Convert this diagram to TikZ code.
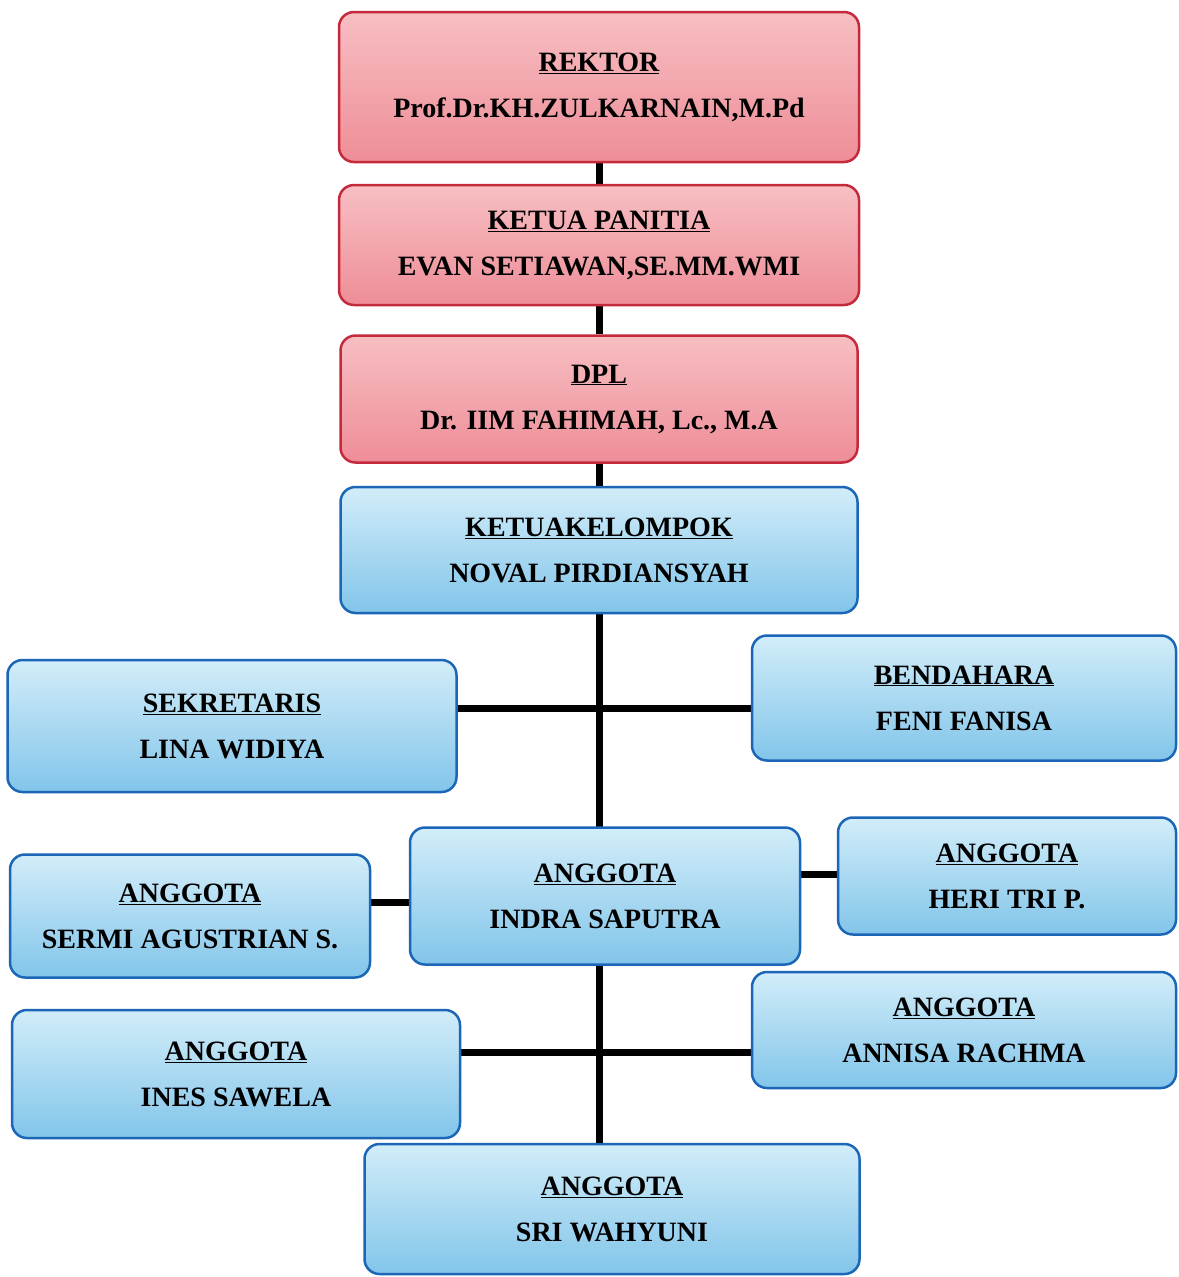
\documentclass[tikz,border=0pt]{standalone}
\usepackage{fontspec}
\setmainfont{Liberation Serif}
\usetikzlibrary{backgrounds}
\definecolor{pinktop}{HTML}{F7BFC3}
\definecolor{pinkbot}{HTML}{EE8D97}
\definecolor{pinkline}{HTML}{C42A3C}
\definecolor{bluetop}{HTML}{D2EDF9}
\definecolor{bluebot}{HTML}{82C5EA}
\definecolor{blueline}{HTML}{1B66B6}
\tikzset{
  box/.style={rounded corners=15pt, line width=2.5pt, align=center,
    font=\bfseries\fontsize{28}{46}\selectfont, inner sep=0pt},
  redbox/.style={box, draw=pinkline, top color=pinktop, bottom color=pinkbot},
  bluebox/.style={box, draw=blueline, top color=bluetop, bottom color=bluebot},
  conn/.style={line width=7pt, black}
}
\newcommand{\ttl}[1]{\underline{#1}}
\begin{document}
\begin{tikzpicture}[x=1pt,y=-1pt]
\useasboundingbox (0,0) rectangle (1178,1277);
\node[redbox, minimum width=520pt, minimum height=150pt] (rek) at (599,87) {\ttl{REKTOR}\\Prof.Dr.KH.ZULKARNAIN,M.Pd};
\node[redbox, minimum width=520pt, minimum height=120pt] (ket) at (599,245) {\ttl{KETUA PANITIA}\\EVAN SETIAWAN,SE.MM.WMI};
\node[redbox, minimum width=517pt, minimum height=127pt] (dpl) at (599,399) {\ttl{DPL}\\Dr. IIM FAHIMAH, Lc., M.A};
\node[bluebox, minimum width=517pt, minimum height=126pt] (kk) at (599,550) {\ttl{KETUAKELOMPOK}\\NOVAL PIRDIANSYAH};
\node[bluebox, minimum width=449pt, minimum height=132pt] (sek) at (232,726) {\ttl{SEKRETARIS}\\LINA WIDIYA};
\node[bluebox, minimum width=424pt, minimum height=125pt] (bend) at (964,698) {\ttl{BENDAHARA}\\FENI FANISA};
\node[bluebox, minimum width=360pt, minimum height=123pt] (sermi) at (190,916) {\ttl{ANGGOTA}\\SERMI AGUSTRIAN S.};
\node[bluebox, minimum width=390pt, minimum height=137pt] (indra) at (605,896) {\ttl{ANGGOTA}\\INDRA SAPUTRA};
\node[bluebox, minimum width=338pt, minimum height=117pt] (heri) at (1007,876) {\ttl{ANGGOTA}\\HERI TRI P.};
\node[bluebox, minimum width=448pt, minimum height=128pt] (ines) at (236,1074) {\ttl{ANGGOTA}\\INES SAWELA};
\node[bluebox, minimum width=424pt, minimum height=116pt] (annisa) at (964,1030) {\ttl{ANGGOTA}\\ANNISA RACHMA};
\node[bluebox, minimum width=495pt, minimum height=130pt] (sri) at (612,1209) {\ttl{ANGGOTA}\\SRI WAHYUNI};
\coordinate (h1) at (600,708);
\coordinate (h2) at (600,902);
\coordinate (h3) at (600,874);
\coordinate (h4) at (600,1052);
\begin{scope}[on background layer]
\fill[white] (0,0) rectangle (1178,1277);
\draw[conn] (rek.south) -- (ket.north);
\draw[conn] (ket.south) -- (dpl.north);
\draw[conn] (dpl.south) -- (kk.north);
\draw[conn] (kk.south) -- (kk.south |- sri.north);
\draw[conn] (sek.east |- h1) -- (bend.west |- h1);
\draw[conn] (sermi.east |- h2) -- (indra.west |- h2);
\draw[conn] (indra.east |- h3) -- (heri.west |- h3);
\draw[conn] (ines.east |- h4) -- (annisa.west |- h4);
\end{scope}
\end{tikzpicture}
\end{document}
